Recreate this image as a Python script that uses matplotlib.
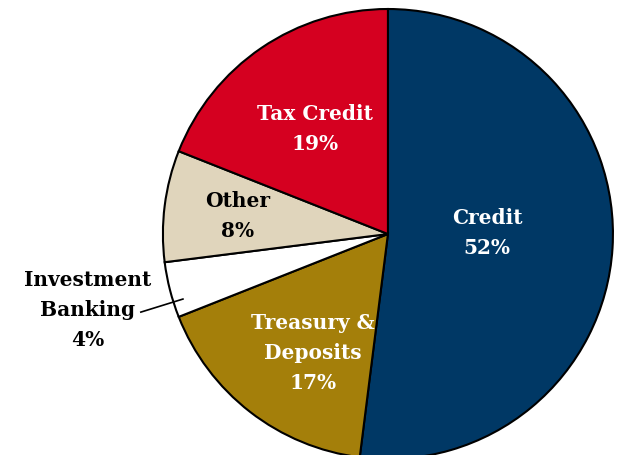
import matplotlib.pyplot as plt

# Revenue mix by business line (percent)
labels = ['Credit', 'Treasury &\nDeposits', 'Investment\nBanking', 'Other', 'Tax Credit']
shares = [52, 17, 4, 8, 19]
colors = ['#003865', '#A47F0A', '#FFFFFF', '#E0D5BC', '#D50020']
text_colors = ['white', 'white', 'black', 'black', 'white']

plt.rcParams['font.family'] = ['DejaVu Serif']

fig = plt.figure(figsize=(6.17, 4.55), dpi=100)
ax = fig.add_axes([0, 0, 1, 1])

wedges, _ = ax.pie(shares, colors=colors, startangle=90, counterclock=False,
                   radius=1.0, center=(0, 0),
                   wedgeprops=dict(edgecolor='black', linewidth=1.5))

ax.set_xlim(-1.724, 1.018)
ax.set_ylim(-0.982, 1.04)
ax.set_aspect('equal')
ax.axis('off')

# label positions in pie units
label_pos = [(0.44, 0.004), (-0.333, -0.529), (-1.333, -0.338),
             (-0.667, 0.08), (-0.324, 0.467)]
for lab, val, (x, y), c in zip(labels, shares, label_pos, text_colors):
    ax.text(x, y, f'{lab}\n{val}%', ha='center', va='center', color=c,
            fontsize=14.5, fontweight='bold', linespacing=1.65)

# leader line for the small slice
ax.plot([-1.098, -0.911], [-0.347, -0.289], color='black', linewidth=1.2)

fig.savefig('out.png', dpi=100)
